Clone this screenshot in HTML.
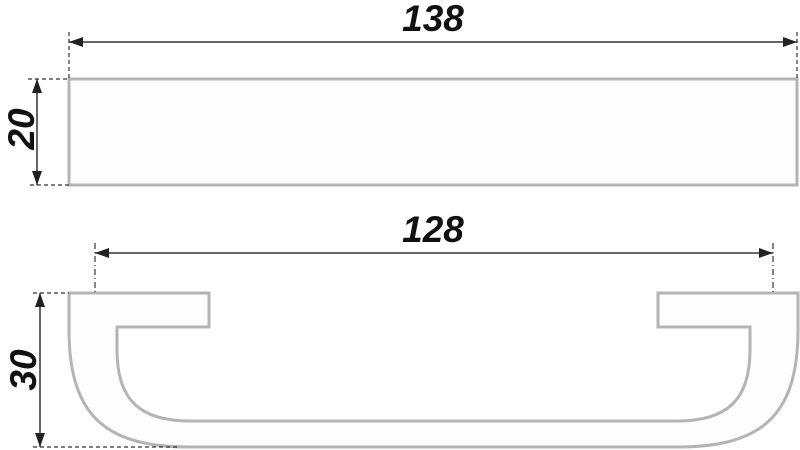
<!DOCTYPE html>
<html><head><style>body{margin:0;background:#fff}svg{display:block}</style></head><body>
<svg width="800" height="450" viewBox="0 0 800 450" xmlns="http://www.w3.org/2000/svg">
<defs>
<marker id="a" viewBox="0 0 14 10" refX="14" refY="5" markerWidth="14" markerHeight="10" markerUnits="userSpaceOnUse" orient="auto-start-reverse"><path d="M0 0L14 5L0 10Z" fill="#222"/></marker>
</defs>
<rect x="69" y="79" width="728" height="106" fill="#fdfdfd" stroke="#b4b4b4" stroke-width="3"/>
<path d="M69 293 L209 293 L209 327 L117 327 L117 350 C117 400 140 421 190 421 L677 421 C727 421 750 400 750 350 L750 327 L658 327 L658 293 L798 293 L798 330 C798 420 757 447 677 447 L190 447 C110 447 69 420 69 330 Z" fill="#fdfdfd" stroke="#b4b4b4" stroke-width="3"/>
<g stroke="#333" stroke-width="1.2" stroke-dasharray="4,3" fill="none">
<path d="M69 32V79M797 32V79M28 79H69M30 185H69M33 293H69M33 447H180"/>
</g>
<g stroke="#333" stroke-width="1.2" stroke-dasharray="6,3,1,3" fill="none">
<path d="M95 243V293M773 243V293"/>
</g>
<g stroke="#333" stroke-width="1.5" fill="none">
<path d="M69 42H797" marker-start="url(#a)" marker-end="url(#a)"/>
<path d="M95 253H773" marker-start="url(#a)" marker-end="url(#a)"/>
<path d="M37 79V185" marker-start="url(#a)" marker-end="url(#a)"/>
<path d="M40 293V447" marker-start="url(#a)" marker-end="url(#a)"/>
</g>
<g font-family="Liberation Sans, sans-serif" font-weight="bold" font-style="italic" font-size="37" fill="#111" text-anchor="middle">
<text x="433" y="31">138</text>
<text x="433" y="242">128</text>
<text transform="translate(34,129) rotate(-90)">20</text>
<text transform="translate(36,370) rotate(-90)">30</text>
</g>
</svg>
</body></html>
